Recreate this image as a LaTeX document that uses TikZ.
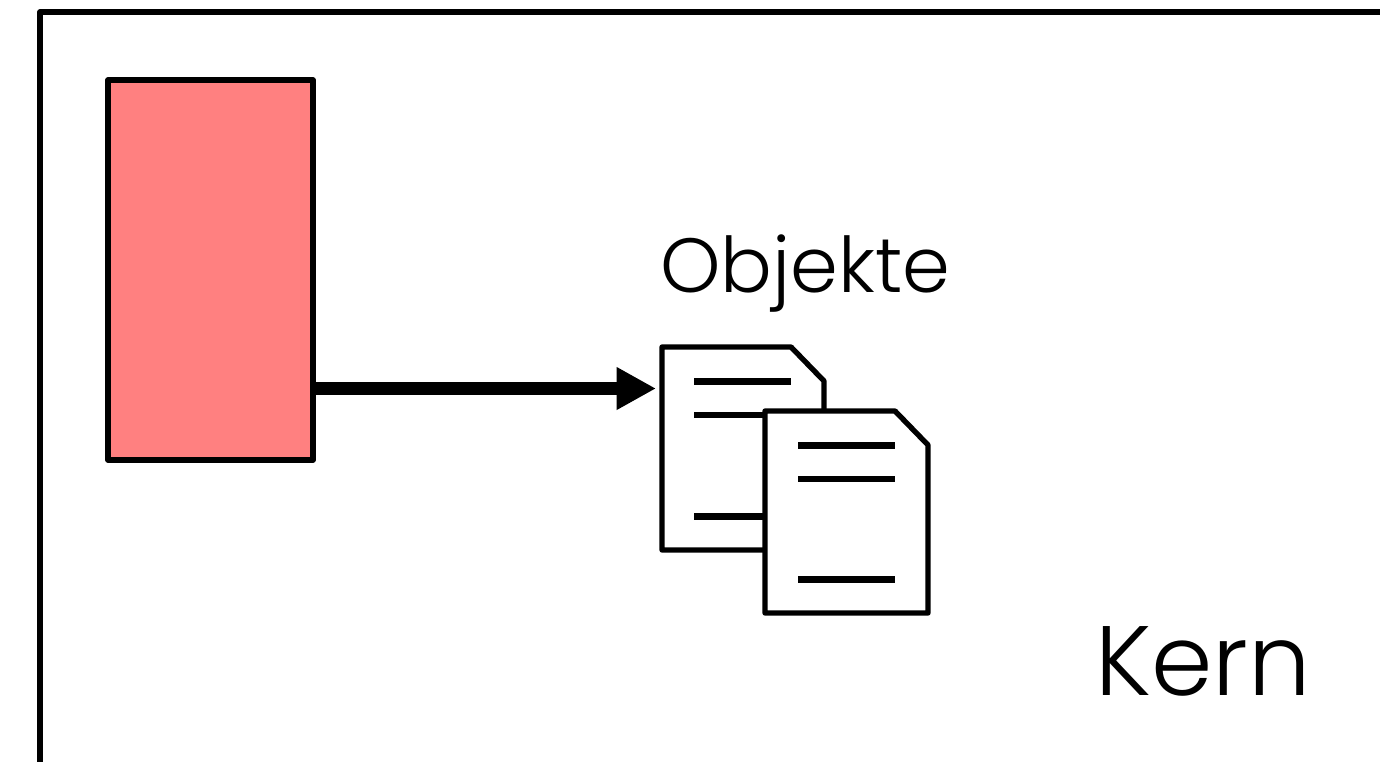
\documentclass[tikz,border=0pt]{standalone}
\usepackage{fontspec}
\setmainfont{Poppins Light}
\usetikzlibrary{arrows.meta}
\tikzset{
  px/.style={x=0.75pt,y=-0.75pt},
  ln/.style={draw=black,line width=4pt,line join=round,line cap=round},
  txtline/.style={draw=black,line width=5pt,line cap=butt},
  docpage/.style={ln,fill=white},
  lbl/.style={inner sep=0pt,anchor=base,text=black}
}
\begin{document}
\begin{tikzpicture}[px]
\useasboundingbox (0,0) rectangle (1380,761);
\clip (0,0) rectangle (1380,761);
\fill[white] (0,0) rectangle (1380,761);
\draw[ln] (40,790) -- (40,12) -- (1400,12);
\coordinate (boxnw) at (108,80);
\coordinate (boxse) at (313,460);
\draw[ln,fill={rgb,255:red,255;green,128;blue,128}] (boxnw) rectangle (boxse);
\coordinate (a) at (313,388.5);
\coordinate (b) at (656,388.5);
\draw[line width=10pt,-{Triangle[length=29.5pt,width=30pt]}] (a) -- (b);
\draw[docpage] (662,347) -- (791,347) -- (824,381) -- (824,550) -- (662,550) -- cycle;
\draw[txtline] (694,381.3) -- (791,381.3) (694,415) -- (791,415) (694,516.5) -- (791,516.5);
\draw[docpage] (765,411) -- (895,411) -- (928,445) -- (928,613) -- (765,613) -- cycle;
\draw[txtline] (798,445.3) -- (895,445.3) (798,479) -- (895,479) (798,579.3) -- (895,579.3);
\node[lbl,font=\fontsize{57.6pt}{58pt}\selectfont] (obj) at (805.5,292) {Objekte};
\node[lbl,font=\fontsize{74pt}{74pt}\selectfont] (kern) at (1203,695) {Kern};
\end{tikzpicture}
\end{document}
